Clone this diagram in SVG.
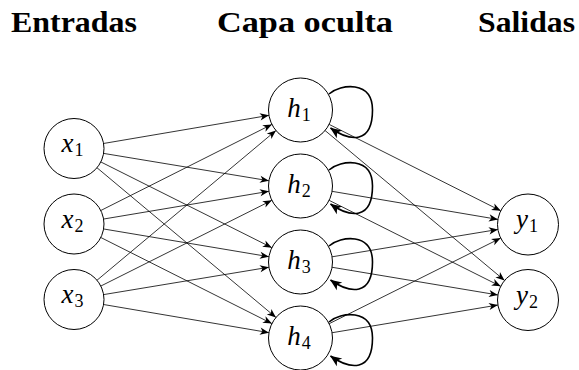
<svg xmlns="http://www.w3.org/2000/svg" width="579" height="370" viewBox="0 0 579 370">
<defs>
<marker id="arr" markerUnits="userSpaceOnUse" viewBox="-10 -5 11 10" refX="0" refY="0" markerWidth="11" markerHeight="10" orient="auto">
<path d="M0,0 L-9,-3.6 L-6.5,0 L-9,3.6 Z" fill="#000" stroke="none"/>
</marker>
<marker id="arrL" markerUnits="userSpaceOnUse" viewBox="-13 -6 14 12" refX="0" refY="0" markerWidth="14" markerHeight="12" orient="auto">
<path d="M0.5,0 L-11,-4.8 L-8,0 L-11,4.8 Z" fill="#000" stroke="none"/>
</marker>
</defs>
<g id="titles" fill="#000">
<text x="11" y="32" textLength="126" lengthAdjust="spacingAndGlyphs" style="font-family:'Liberation Serif',serif;font-weight:bold;font-size:29px">Entradas</text>
<text x="217" y="32" textLength="176" lengthAdjust="spacingAndGlyphs" style="font-family:'Liberation Serif',serif;font-weight:bold;font-size:29px">Capa oculta</text>
<text x="478" y="32" textLength="97" lengthAdjust="spacingAndGlyphs" style="font-family:'Liberation Serif',serif;font-weight:bold;font-size:29px">Salidas</text>
</g>
<g id="connectors" fill="none" stroke="#000">
<g stroke-width="0.8" marker-end="url(#arr)">
<path d="M103.58,143.47 L268.95,115.36"/>
<path d="M103.6,153.4 L268.93,180.77"/>
<path d="M100.82,161.94 L271.89,247.66"/>
<path d="M97.01,167.75 L275.96,317.47"/>
<path d="M100.8,210.51 L271.92,124.39"/>
<path d="M103.59,219.04 L268.94,191.3"/>
<path d="M103.59,228.96 L268.94,256.7"/>
<path d="M100.8,237.49 L271.92,323.61"/>
<path d="M97.01,280.25 L275.96,130.53"/>
<path d="M100.82,286.06 L271.89,200.34"/>
<path d="M103.6,294.6 L268.93,267.23"/>
<path d="M103.58,304.53 L268.95,332.64"/>
<path d="M329.08,124.39 L500.76,210.79"/>
<path d="M325.06,130.51 L504.59,280.45"/>
<path d="M332.05,191.34 L497.93,219.41"/>
<path d="M329.11,200.34 L500.73,286.34"/>
<path d="M332.07,256.8 L497.91,229.46"/>
<path d="M332.06,267.27 L497.92,294.97"/>
<path d="M329.14,323.71 L500.71,238.12"/>
<path d="M332.06,332.73 L497.92,305.03"/>
</g>
<g stroke-width="1.6" marker-end="url(#arrL)">
<path d="M329,94 C340.5,84 372.5,80 372.5,110 C372.5,144 350.5,142 330.5,128"/>
<path d="M329,170 C340.5,160 372.5,156 372.5,186 C372.5,220 350.5,218 330.5,204"/>
<path d="M329,246 C340.5,236 372.5,232 372.5,262 C372.5,296 350.5,294 330.5,280"/>
<path d="M329,322 C340.5,312 372.5,308 372.5,338 C372.5,372 350.5,370 330.5,356"/>
</g>
</g>
<g id="nodes" fill="#fff" stroke="#000" stroke-width="1">
<g id="x1"><circle cx="74" cy="148.5" r="30"/><text x="72.5" y="152" text-anchor="middle" fill="#000" stroke="none" style="font-family:'Liberation Serif',serif;font-style:italic;font-size:27px">x<tspan dx="1" dy="4" style="font-style:normal;font-size:18px">1</tspan></text></g>
<g id="x2"><circle cx="74" cy="224" r="30"/><text x="72.5" y="227.5" text-anchor="middle" fill="#000" stroke="none" style="font-family:'Liberation Serif',serif;font-style:italic;font-size:27px">x<tspan dx="1" dy="4" style="font-style:normal;font-size:18px">2</tspan></text></g>
<g id="x3"><circle cx="74" cy="299.5" r="30"/><text x="72.5" y="303" text-anchor="middle" fill="#000" stroke="none" style="font-family:'Liberation Serif',serif;font-style:italic;font-size:27px">x<tspan dx="1" dy="4" style="font-style:normal;font-size:18px">3</tspan></text></g>
<g id="h1"><circle cx="300.5" cy="110" r="32"/><text x="299" y="117" text-anchor="middle" fill="#000" stroke="none" style="font-family:'Liberation Serif',serif;font-style:italic;font-size:27px">h<tspan dx="1" dy="4" style="font-style:normal;font-size:18px">1</tspan></text></g>
<g id="h2"><circle cx="300.5" cy="186" r="32"/><text x="299" y="193" text-anchor="middle" fill="#000" stroke="none" style="font-family:'Liberation Serif',serif;font-style:italic;font-size:27px">h<tspan dx="1" dy="4" style="font-style:normal;font-size:18px">2</tspan></text></g>
<g id="h3"><circle cx="300.5" cy="262" r="32"/><text x="299" y="269" text-anchor="middle" fill="#000" stroke="none" style="font-family:'Liberation Serif',serif;font-style:italic;font-size:27px">h<tspan dx="1" dy="4" style="font-style:normal;font-size:18px">3</tspan></text></g>
<g id="h4"><circle cx="300.5" cy="338" r="32"/><text x="299" y="345" text-anchor="middle" fill="#000" stroke="none" style="font-family:'Liberation Serif',serif;font-style:italic;font-size:27px">h<tspan dx="1" dy="4" style="font-style:normal;font-size:18px">4</tspan></text></g>
<g id="y1"><circle cx="528" cy="224.5" r="30.5"/><text x="527" y="228" text-anchor="middle" fill="#000" stroke="none" style="font-family:'Liberation Serif',serif;font-style:italic;font-size:27px">y<tspan dx="1" dy="4" style="font-style:normal;font-size:18px">1</tspan></text></g>
<g id="y2"><circle cx="528" cy="300" r="30.5"/><text x="527" y="303.5" text-anchor="middle" fill="#000" stroke="none" style="font-family:'Liberation Serif',serif;font-style:italic;font-size:27px">y<tspan dx="1" dy="4" style="font-style:normal;font-size:18px">2</tspan></text></g>
</g>
</svg>
